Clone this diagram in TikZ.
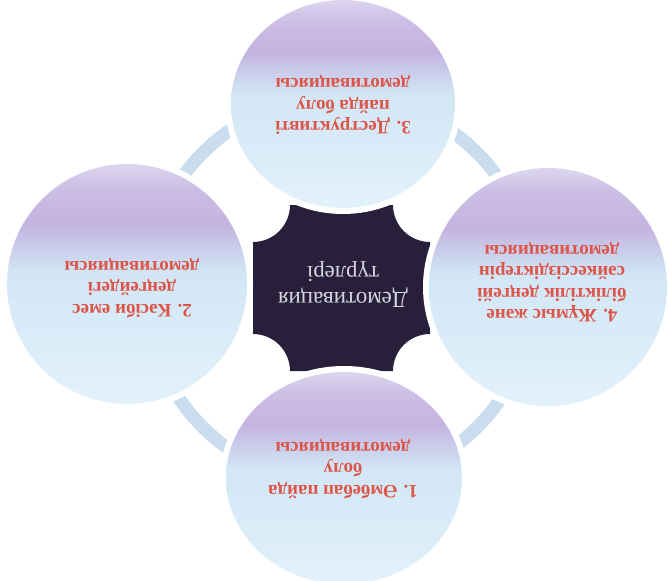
\documentclass[tikz,border=0pt]{standalone}
\usepackage{fontspec}
\setmainfont{Liberation Serif}
\usetikzlibrary{shapes.geometric}
\definecolor{gT}{HTML}{DCD6EF}
\definecolor{gQ}{HTML}{CCBEE5}
\definecolor{gP}{HTML}{C4B3DF}
\definecolor{gM}{HTML}{CAD0EC}
\definecolor{gL}{HTML}{D2E6F5}
\definecolor{gB}{HTML}{E2F2FB}
\definecolor{redc}{HTML}{DD5548}
\definecolor{darkc}{HTML}{281F3B}
\definecolor{ringc}{HTML}{C9DDEE}
\definecolor{ctextc}{HTML}{D6D6DE}
\pgfdeclareverticalshading{circgrad}{100bp}{color(0bp)=(gB); color(25bp)=(gB); color(52.5bp)=(gL); color(57bp)=(gM); color(62.5bp)=(gP); color(70bp)=(gQ); color(75bp)=(gT); color(100bp)=(gT)}
\begin{document}
\begin{tikzpicture}[x=1bp,y=-1bp,
  bubble/.style={ellipse, inner sep=0pt, shading=circgrad, preaction={draw=white, line width=12bp}},
  ctext/.style={text=redc, font=\bfseries\fontsize{19}{21.5}\selectfont, align=center, rotate=180, inner sep=0pt},
  midtext/.style={text=ctextc, font=\fontsize{23}{26}\selectfont, align=center, rotate=180, inner sep=0pt}]
\useasboundingbox (0,0) rectangle (669,581);
\clip (0,0) rectangle (669,581);
\fill[white] (0,0) rectangle (669,581);
% ring behind the bubbles
\node[circle, draw=ringc, line width=13bp, minimum size=388bp, inner sep=0pt] (ring) at (340,290) {};
% dark centre plaque (concave corners)
\fill[darkc] (290,205) -- (393,205) arc[start angle=180, end angle=90, radius=37]
  -- (430,334) arc[start angle=270, end angle=180, radius=37]
  -- (290,371) arc[start angle=0, end angle=-90, radius=37]
  -- (253,242) arc[start angle=90, end angle=0, radius=37] -- cycle;
% bubbles
\node[bubble, minimum width=224bp, minimum height=208bp] (c3) at (343,104) {};
\node[bubble, minimum width=238bp, minimum height=238bp] (c4) at (548,287) {};
\node[bubble, minimum width=240bp, minimum height=240bp] (c2) at (127,284) {};
\node[bubble, minimum width=236bp, minimum height=212bp] (c1) at (344,478) {};
% texts
\node[ctext] (t3) at (343,105) {3. Деструктивті\\пайда болу\\демотивациясы};
\node[ctext] (t4) at (552,282) {4. Жұмыс және\\біліктілік деңгейі\\сәйкессіздіктерін\\демотивациясы};
\node[ctext] (t2) at (132,288) {2. Кәсіби емес\\деңгейдегі\\демотивациясы};
\node[ctext] (t1) at (343,469) {1. Әмбебап пайда\\болу\\демотивациясы};
\node[midtext] (tm) at (343,285) {Демотивация\\түрлері};
\end{tikzpicture}
\end{document}
